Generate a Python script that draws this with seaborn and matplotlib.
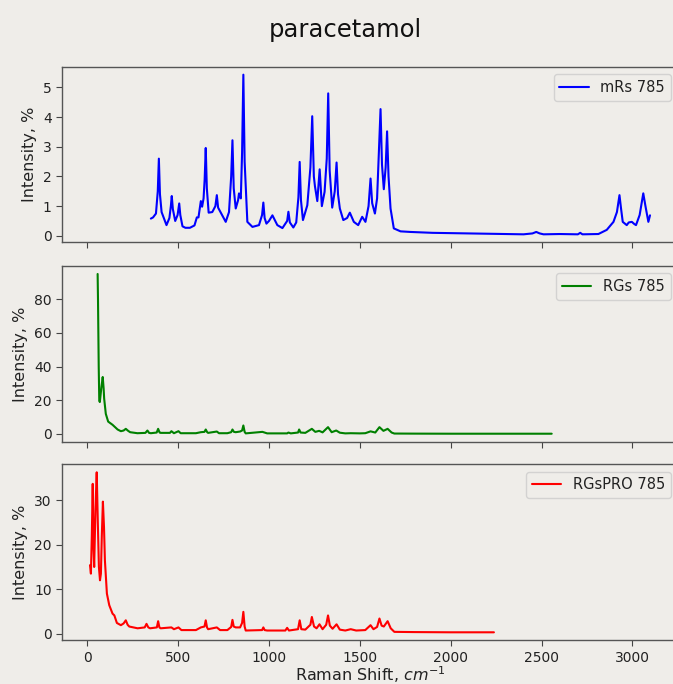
import matplotlib
matplotlib.use("Agg")
import matplotlib.pyplot as plt
import seaborn as sns
import pandas as pd

# ---------------- data ----------------
mrs_shift = [350, 362, 378, 388, 394, 400, 409, 418, 436, 452, 460, 465, 471, 484, 497, 506, 512, 524, 540, 565,
             590, 603, 612, 620, 625, 632, 640, 646, 652, 658, 668, 688, 705, 713, 720, 740, 762, 780, 792, 799,
             806, 817, 830, 835, 845, 852, 859, 866, 881, 909, 945, 962, 969, 976, 986, 1000, 1019, 1046, 1074, 1100,
             1107, 1115, 1134, 1150, 1162, 1169, 1176, 1187, 1211, 1228, 1238, 1247, 1253, 1266, 1279, 1291, 1306, 1318, 1326, 1334,
             1348, 1362, 1372, 1380, 1390, 1409, 1430, 1445, 1467, 1491, 1513, 1531, 1548, 1559, 1568, 1583, 1595, 1605, 1614, 1622,
             1632, 1642, 1650, 1658, 1669, 1687, 1724, 1778, 1900, 2090, 2250, 2401, 2450, 2471, 2490, 2511, 2600, 2700, 2713, 2725,
             2813, 2859, 2896, 2915, 2929, 2938, 2947, 2969, 2980, 2997, 3010, 3020, 3040, 3060, 3072, 3088, 3097]
mrs_intensity = [0.58, 0.62, 0.75, 1.5, 2.6, 1.4, 0.80, 0.65, 0.36, 0.6, 1.0, 1.34, 0.9, 0.50, 0.7, 1.09, 0.7, 0.32, 0.27, 0.27,
                 0.35, 0.62, 0.62, 0.95, 1.17, 0.98, 1.26, 1.9, 2.96, 1.6, 0.78, 0.80, 1.0, 1.37, 0.95, 0.72, 0.47, 0.8, 2.0, 3.22,
                 1.6, 0.92, 1.2, 1.43, 1.26, 2.8, 5.43, 2.5, 0.47, 0.30, 0.36, 0.7, 1.12, 0.6, 0.41, 0.5, 0.69, 0.36, 0.26, 0.5,
                 0.81, 0.45, 0.28, 0.45, 1.3, 2.49, 1.2, 0.53, 1.03, 2.3, 4.03, 2.0, 1.67, 1.17, 2.24, 1.0, 1.48, 2.6, 4.80, 2.2,
                 0.95, 1.5, 2.47, 1.4, 0.92, 0.53, 0.6, 0.78, 0.47, 0.36, 0.64, 0.47, 1.0, 1.93, 1.1, 0.75, 1.26, 2.8, 4.27, 2.4,
                 1.57, 2.3, 3.52, 2.0, 0.92, 0.25, 0.15, 0.13, 0.10, 0.08, 0.06, 0.05, 0.08, 0.13, 0.08, 0.05, 0.06, 0.05, 0.10, 0.05,
                 0.06, 0.20, 0.47, 0.8, 1.37, 0.9, 0.47, 0.36, 0.45, 0.47, 0.40, 0.36, 0.7, 1.43, 1.0, 0.47, 0.69]

rgs_shift = [57, 59, 63, 66, 69, 78, 85, 90, 93, 102, 115, 139, 155, 167, 185, 200, 212, 225, 236, 276,
             320, 331, 340, 350, 382, 390, 398, 404, 455, 463, 477, 502, 514, 598, 625, 645, 652, 660, 665, 713,
             725, 771, 792, 799, 807, 817, 841, 852, 859, 866, 872, 964, 990, 1100, 1107, 1120, 1160, 1166, 1174, 1200,
             1236, 1255, 1276, 1295, 1325, 1345, 1370, 1390, 1420, 1450, 1500, 1530, 1559, 1585, 1608, 1630, 1653, 1675, 1690, 1800,
             2000, 2300, 2556]
rgs_intensity = [95.0, 80, 40, 19.9, 18.9, 28, 33.8, 27, 20.9, 11.9, 7.3, 5.4, 3.8, 2.6, 1.6, 2.0, 3.0, 1.8, 1.0, 0.4,
                 0.6, 2.0, 0.6, 0.4, 0.8, 3.0, 0.8, 0.6, 0.6, 1.6, 0.4, 1.6, 0.4, 0.4, 1.0, 1.2, 2.6, 1.0, 0.6, 1.4,
                 0.4, 0.4, 1.0, 2.6, 1.2, 1.0, 1.4, 2.0, 5.0, 1.2, 0.3, 1.2, 0.3, 0.3, 0.8, 0.3, 0.8, 2.6, 0.8, 0.6,
                 3.0, 1.2, 1.8, 0.9, 4.0, 1.0, 2.0, 0.7, 0.3, 0.4, 0.3, 0.4, 1.5, 0.8, 4.0, 1.8, 3.0, 0.8, 0.2, 0.15,
                 0.1, 0.1, 0.1]

rgspro_shift = [15, 20, 25, 30, 34, 38, 45, 52, 58, 64, 70, 75, 80, 86, 92, 97, 108, 121, 139, 149,
                163, 185, 200, 212, 222, 231, 277, 316, 326, 336, 346, 383, 390, 397, 404, 463, 477, 502, 518, 598,
                625, 645, 652, 659, 665, 713, 731, 771, 792, 799, 806, 817, 841, 852, 859, 866, 872, 962, 969, 976,
                990, 1090, 1100, 1110, 1160, 1169, 1178, 1200, 1228, 1236, 1248, 1262, 1278, 1295, 1315, 1325, 1335, 1350, 1372, 1390,
                1420, 1450, 1480, 1530, 1559, 1575, 1595, 1608, 1620, 1632, 1653, 1670, 1690, 1800, 2000, 2238]
rgspro_intensity = [15.4, 13.5, 22, 33.7, 20, 15.0, 28, 36.3, 25, 15, 12.0, 13.5, 22, 29.7, 24, 16.5, 9.0, 6.4, 4.5, 4.1,
                    2.4, 1.9, 2.3, 3.0, 2.0, 1.6, 1.2, 1.4, 2.2, 1.4, 1.2, 1.4, 2.8, 1.4, 1.2, 1.4, 1.0, 1.4, 0.8, 0.8,
                    1.4, 1.6, 3.0, 1.4, 1.0, 1.4, 0.8, 0.8, 1.5, 3.1, 1.6, 1.4, 1.4, 2.4, 4.9, 1.6, 0.7, 0.8, 1.4, 0.8,
                    0.7, 0.7, 1.3, 0.7, 1.0, 3.0, 1.0, 0.9, 2.0, 3.75, 1.6, 1.2, 2.1, 1.0, 2.0, 4.1, 1.8, 1.1, 2.1, 0.9,
                    0.7, 1.0, 0.7, 0.8, 1.9, 1.0, 1.5, 3.4, 1.8, 1.6, 2.8, 1.2, 0.4, 0.35, 0.3, 0.3]

series_labels = ["mRs 785", "RGs 785", "RGsPRO 785"]
series_colors = ["blue", "green", "red"]
title_text = "paracetamol"
x_label = "Raman Shift, $cm^{-1}$"
y_label = "Intensity, %"
x_ticks = [0, 500, 1000, 1500, 2000, 2500, 3000]

# ---------------- styling ----------------
BG = "#efede9"
sns.set_style("white", {"axes.facecolor": BG, "figure.facecolor": BG,
                        "axes.edgecolor": "#555555", "xtick.bottom": True, "ytick.left": True,
                        "xtick.color": "#333333", "ytick.color": "#333333"})
plt.rcParams["font.family"] = ["DejaVu Sans"]

fig, axes = plt.subplots(3, 1, sharex=True, figsize=(6.73, 6.84), dpi=100)
fig.patch.set_facecolor(BG)

W, H = 673.0, 684.0
left_px, right_px = 62.0, 678.0
boxes = [(66.7, 242.3), (266.0, 441.7), (464.3, 640.3)]
for ax, (t, b) in zip(axes, boxes):
    ax.set_position([left_px / W, 1 - b / H, (right_px - left_px) / W, (b - t) / H])

frames = [
    pd.DataFrame({"shift": mrs_shift, "intensity": mrs_intensity}),
    pd.DataFrame({"shift": rgs_shift, "intensity": rgs_intensity}),
    pd.DataFrame({"shift": rgspro_shift, "intensity": rgspro_intensity}),
]

for ax, df, lab, col in zip(axes, frames, series_labels, series_colors):
    sns.lineplot(data=df, x="shift", y="intensity", ax=ax, color=col, label=lab,
                 linewidth=1.5, sort=False, estimator=None)
    ax.set_facecolor(BG)
    ax.set_ylabel(y_label, fontsize=11.5, color="#222222")
    ax.set_xlabel("")
    ax.tick_params(labelsize=10, length=4, width=0.8, colors="#444444", labelcolor="#222222")
    for s in ax.spines.values():
        s.set_color("#555555")
        s.set_linewidth(1.0)
    leg = ax.legend(loc="upper right", fontsize=10.5, frameon=True, borderaxespad=0.5)
    leg.get_frame().set_edgecolor("#cccccc")
    leg.get_frame().set_facecolor(BG)
    for t in leg.get_texts():
        t.set_color("#222222")

axes[2].set_xticks(x_ticks)
axes[2].set_xlabel(x_label, fontsize=11.5, color="#222222", labelpad=0)
for ax in axes[:2]:
    ax.tick_params(labelbottom=False)

fig.text(0.513, 1 - 37.3 / H, title_text, ha="center", va="baseline", fontsize=17.5, color="#111111")

fig.savefig("out.png", dpi=100, facecolor=BG)
